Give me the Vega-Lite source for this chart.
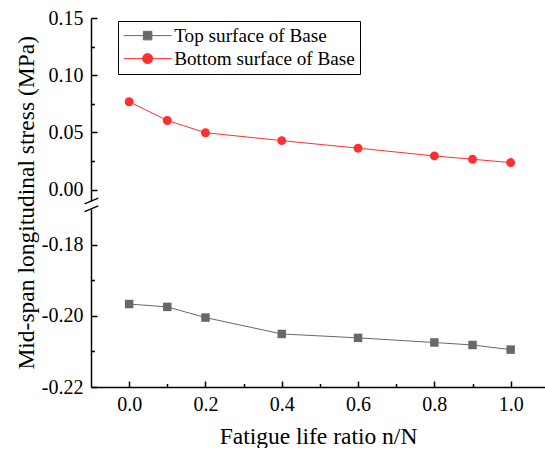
{
  "$schema": "https://vega.github.io/schema/vega-lite/v6.json",
  "padding": {"left": 14, "top": 8, "right": 0, "bottom": 0},
  "bounds": "flush",
  "datasets": {
    "stress": [
      {"ratio": 0.0, "stress": 0.0768, "surface": "Bottom surface of Base"},
      {"ratio": 0.1, "stress": 0.0604, "surface": "Bottom surface of Base"},
      {"ratio": 0.2, "stress": 0.0497, "surface": "Bottom surface of Base"},
      {"ratio": 0.4, "stress": 0.0428, "surface": "Bottom surface of Base"},
      {"ratio": 0.6, "stress": 0.0362, "surface": "Bottom surface of Base"},
      {"ratio": 0.8, "stress": 0.0294, "surface": "Bottom surface of Base"},
      {"ratio": 0.9, "stress": 0.0265, "surface": "Bottom surface of Base"},
      {"ratio": 1.0, "stress": 0.0236, "surface": "Bottom surface of Base"},
      {"ratio": 0.0, "stress": -0.1967, "surface": "Top surface of Base"},
      {"ratio": 0.1, "stress": -0.1975, "surface": "Top surface of Base"},
      {"ratio": 0.2, "stress": -0.2005, "surface": "Top surface of Base"},
      {"ratio": 0.4, "stress": -0.2051, "surface": "Top surface of Base"},
      {"ratio": 0.6, "stress": -0.2062, "surface": "Top surface of Base"},
      {"ratio": 0.8, "stress": -0.2075, "surface": "Top surface of Base"},
      {"ratio": 0.9, "stress": -0.2082, "surface": "Top surface of Base"},
      {"ratio": 1.0, "stress": -0.2095, "surface": "Top surface of Base"}
    ],
    "breaks": [
      {"panel": "top", "ratio": -0.117, "ratio2": -0.0809, "stress": -0.01259, "stress2": -0.00743},
      {"panel": "bottom", "ratio": -0.117, "ratio2": -0.0809, "stress": -0.17076, "stress2": -0.1691}
    ]
  },
  "spacing": 8,
  "resolve": {"scale": {"color": "shared"}},
  "vconcat": [
    {
      "width": 454,
      "height": 183,
      "encoding": {
        "x": {"field": "ratio", "type": "quantitative", "scale": {"domain": [-0.1, 1.09], "nice": false, "zero": false}, "axis": null},
        "y": {
          "field": "stress", "type": "quantitative",
          "scale": {"domain": [-0.01, 0.15], "nice": false, "zero": false},
          "axis": {
            "values": [0, 0.025, 0.05, 0.075, 0.1, 0.125, 0.15],
            "format": ".2f",
            "labelExpr": "abs(datum.value*20 - round(datum.value*20)) < 0.001 ? replace(datum.label, '\u2212', '-') : ''",
            "tickSize": {"condition": {"test": "abs(datum.value*20 - round(datum.value*20)) < 0.001", "value": -6}, "value": -3.5},
            "labelFont": "Liberation Serif", "labelFontSize": 20,
            "labelPadding": 14,
            "labelOverlap": false,
            "title": "Mid-span longitudinal stress (MPa)",
            "titleY": 184.3,
            "titlePadding": 10
          }
        }
      },
      "layer": [
        {
          "data": {"name": "stress"},
          "transform": [{"filter": "datum.surface === 'Bottom surface of Base'"}],
          "mark": {"type": "line", "strokeWidth": 1},
          "encoding": {
            "color": {
              "field": "surface", "type": "nominal",
              "scale": {"domain": ["Top surface of Base", "Bottom surface of Base"], "range": ["#686868", "#ff3030"]},
              "legend": {
                "orient": "none", "legendX": 27, "legendY": 3, "title": null,
                "strokeColor": "black", "padding": 5,
                "labelFont": "Liberation Serif", "labelFontSize": 19.2, "labelColor": "black", "labelLimit": 400,
                "symbolSize": 100, "symbolOffset": 15, "labelOffset": 17, "rowPadding": 3,
                "encode": {
                  "symbols": {
                    "update": {
                      "shape": {"signal": "datum.value === 'Top surface of Base' ? 'M-4.8,0H4.8M-0.85,-0.85H0.85V0.85H-0.85Z' : 'M-4.8,0H4.8M-1,0A1,1,0,1,1,1,0A1,1,0,1,1,-1,0Z'"},
                      "stroke": {"signal": "datum.value === 'Top surface of Base' ? '#686868' : '#ff3030'"},
                      "fill": {"signal": "datum.value === 'Top surface of Base' ? '#686868' : '#ff3030'"},
                      "strokeWidth": {"value": 1},
                      "opacity": {"value": 1}
                    }
                  }
                }
              }
            }
          }
        },
        {
          "data": {"name": "stress"},
          "transform": [{"filter": "datum.surface === 'Bottom surface of Base'"}],
          "mark": {"type": "point", "shape": "circle", "filled": true, "size": 80, "opacity": 1},
          "encoding": {"color": {"field": "surface", "type": "nominal"}}
        },
        {
          "data": {"name": "breaks"},
          "transform": [{"filter": "datum.panel === 'top'"}],
          "mark": {"type": "rule", "color": "black", "strokeWidth": 1.3},
          "encoding": {"x2": {"field": "ratio2"}, "y2": {"field": "stress2"}}
        }
      ]
    },
    {
      "width": 454,
      "height": 178,
      "encoding": {
        "x": {
          "field": "ratio", "type": "quantitative",
          "scale": {"domain": [-0.1, 1.09], "nice": false, "zero": false},
          "axis": {
            "values": [0, 0.1, 0.2, 0.3, 0.4, 0.5, 0.6, 0.7, 0.8, 0.9, 1.0],
            "format": ".1f",
            "labelExpr": "abs(datum.value*5 - round(datum.value*5)) < 0.001 ? datum.label : ''",
            "tickSize": {"condition": {"test": "abs(datum.value*5 - round(datum.value*5)) < 0.001", "value": -6}, "value": -3.5},
            "labelFont": "Liberation Serif", "labelFontSize": 20,
            "labelPadding": 13,
            "labelOverlap": false,
            "labelFlush": false,
            "title": "Fatigue life ratio n/N",
            "titlePadding": 8
          }
        },
        "y": {
          "field": "stress", "type": "quantitative",
          "scale": {"domain": [-0.22, -0.17], "nice": false, "zero": false},
          "axis": {
            "values": [-0.22, -0.21, -0.2, -0.19, -0.18],
            "format": ".2f",
            "labelExpr": "abs(datum.value*50 - round(datum.value*50)) < 0.001 ? replace(datum.label, '\u2212', '-') : ''",
            "tickSize": {"condition": {"test": "abs(datum.value*50 - round(datum.value*50)) < 0.001", "value": -6}, "value": -3.5},
            "labelFont": "Liberation Serif", "labelFontSize": 20,
            "labelPadding": 14,
            "labelOverlap": false,
            "title": null
          }
        }
      },
      "layer": [
        {
          "data": {"name": "stress"},
          "transform": [{"filter": "datum.surface === 'Top surface of Base'"}],
          "mark": {"type": "line", "strokeWidth": 1},
          "encoding": {"color": {"field": "surface", "type": "nominal"}}
        },
        {
          "data": {"name": "stress"},
          "transform": [{"filter": "datum.surface === 'Top surface of Base'"}],
          "mark": {"type": "point", "shape": "square", "filled": true, "size": 72, "opacity": 1},
          "encoding": {"color": {"field": "surface", "type": "nominal"}}
        },
        {
          "data": {"name": "breaks"},
          "transform": [{"filter": "datum.panel === 'bottom'"}],
          "mark": {"type": "rule", "color": "black", "strokeWidth": 1.3},
          "encoding": {"x2": {"field": "ratio2"}, "y2": {"field": "stress2"}}
        }
      ]
    }
  ],
  "config": {
    "font": "Liberation Serif",
    "view": {"stroke": null},
    "axis": {
      "grid": false,
      "domainColor": "black", "domainWidth": 1.5,
      "tickColor": "black", "tickWidth": 1.5,
      "labelFont": "Liberation Serif", "labelFontSize": 20, "labelColor": "black",
      "titleFont": "Liberation Serif", "titleFontSize": 23.5, "titleFontWeight": "normal", "titleColor": "black"
    }
  }
}
